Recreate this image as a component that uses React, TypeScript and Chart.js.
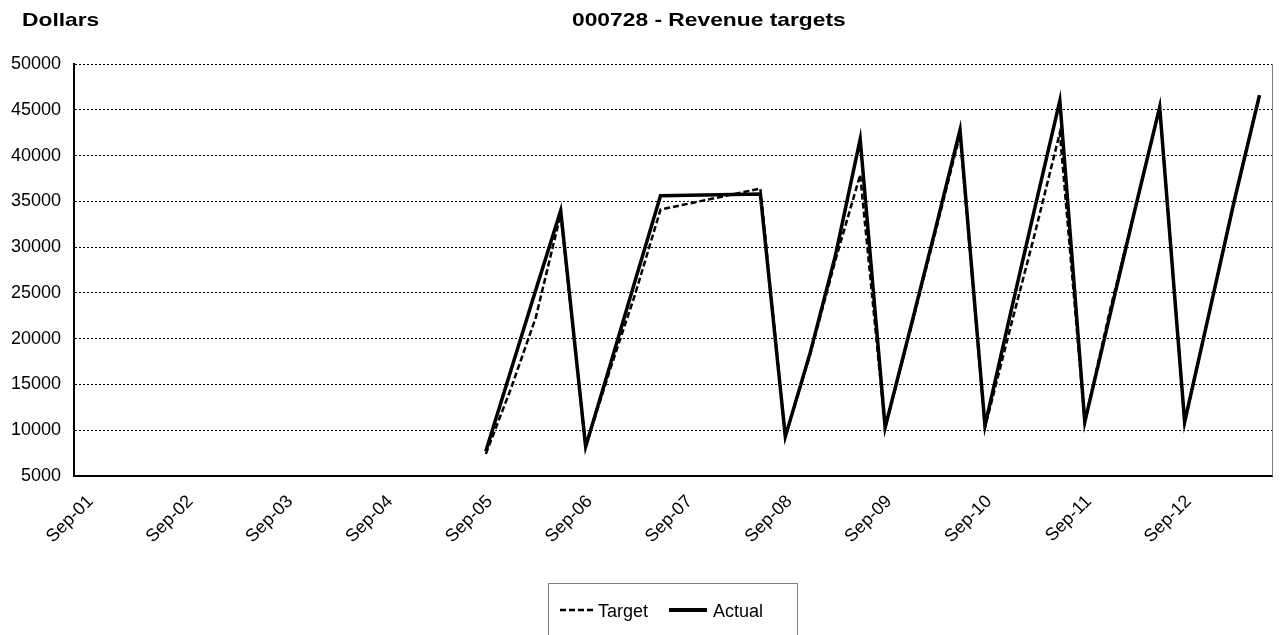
import React, { useEffect, useRef } from 'react';
import { Chart, registerables } from 'chart.js';

Chart.register(...registerables);

const FONT = '"Liberation Sans", Arial, Helvetica, sans-serif';

const chartTitle = '000728 - Revenue targets';
const unitLabel = 'Dollars';

// Quarterly categories, Sep-01 .. Jun-13
const quarterLabels = [
  'Sep-01', 'Dec-01', 'Mar-02', 'Jun-02',
  'Sep-02', 'Dec-02', 'Mar-03', 'Jun-03',
  'Sep-03', 'Dec-03', 'Mar-04', 'Jun-04',
  'Sep-04', 'Dec-04', 'Mar-05', 'Jun-05',
  'Sep-05', 'Dec-05', 'Mar-06', 'Jun-06',
  'Sep-06', 'Dec-06', 'Mar-07', 'Jun-07',
  'Sep-07', 'Dec-07', 'Mar-08', 'Jun-08',
  'Sep-08', 'Dec-08', 'Mar-09', 'Jun-09',
  'Sep-09', 'Dec-09', 'Mar-10', 'Jun-10',
  'Sep-10', 'Dec-10', 'Mar-11', 'Jun-11',
  'Sep-11', 'Dec-11', 'Mar-12', 'Jun-12',
  'Sep-12', 'Dec-12', 'Mar-13', 'Jun-13',
];

const targetValues: (number | null)[] = [
  null, null, null, null,
  null, null, null, null,
  null, null, null, null,
  null, null, null, null,
  7400, 14500, 22300, 33600,
  8200, 16800, 25000, 34100,
  null, null, null, 36400,
  9300, 18300, 28500, 37900,
  10300, 20800, 31500, 42300,
  10300, 21000, 31500, 42500,
  10900, 23000, 34000, 45300,
  10900, 23000, 35200, 46600,
];

const actualValues: (number | null)[] = [
  null, null, null, null,
  null, null, null, null,
  null, null, null, null,
  null, null, null, null,
  7700, 16500, 25300, 34000,
  8200, 17300, 26500, 35600,
  null, null, null, 35800,
  9300, 18500, 29000, 41800,
  10300, 21000, 31800, 42800,
  10500, 22500, 34300, 46000,
  10900, 22500, 34000, 45300,
  10900, 23000, 35200, 46600,
];

const yMin = 5000;
const yMax = 50000;
const yStep = 5000;

function drawStretchedText(ctx: CanvasRenderingContext2D, text: string, x: number, y: number, sx: number) {
  ctx.save();
  ctx.translate(x, y);
  ctx.scale(sx, 1);
  ctx.fillText(text, 0, 0);
  ctx.restore();
}

const decorPlugin = {
  id: 'decor',
  afterDraw(chart: any) {
    const { ctx, chartArea } = chart;
    ctx.save();
    // right frame line
    ctx.strokeStyle = '#808080';
    ctx.lineWidth = 1;
    ctx.setLineDash([]);
    ctx.beginPath();
    ctx.moveTo(Math.round(chartArea.right) + 0.5, chartArea.top);
    ctx.lineTo(Math.round(chartArea.right) + 0.5, chartArea.bottom);
    ctx.stroke();

    // titles
    ctx.fillStyle = '#000';
    ctx.textBaseline = 'alphabetic';
    ctx.textAlign = 'left';
    ctx.font = `bold 19px ${FONT}`;
    drawStretchedText(ctx, unitLabel, 22, 26, 1.2);
    drawStretchedText(ctx, chartTitle, 572, 26, 1.2);

    // legend box
    ctx.strokeStyle = '#808080';
    ctx.lineWidth = 1;
    ctx.strokeRect(548.5, 583.5, 249, 70);

    const ds = chart.data.datasets;
    const items = [
      { d: ds[0], x0: 560, x1: 595, tx: 598, w: 2.5 },
      { d: ds[1], x0: 669, x1: 707, tx: 713, w: 4 },
    ];
    const ly = 610;
    items.forEach((it) => {
      ctx.save();
      ctx.strokeStyle = it.d.borderColor;
      ctx.lineWidth = it.w;
      ctx.setLineDash(it.d.borderDash || []);
      ctx.beginPath();
      ctx.moveTo(it.x0, ly);
      ctx.lineTo(it.x1, ly);
      ctx.stroke();
      ctx.restore();
      ctx.fillStyle = '#000';
      ctx.font = `18px ${FONT}`;
      ctx.textBaseline = 'alphabetic';
      ctx.fillText(it.d.label, it.tx, 617);
    });
    ctx.restore();
  },
};

export default function App() {
  const ref = useRef<HTMLCanvasElement>(null);

  useEffect(() => {
    document.body.style.margin = '0';
    Chart.defaults.font.family = FONT;
    const chart = new Chart(ref.current as HTMLCanvasElement, {
      type: 'line',
      data: {
        labels: quarterLabels,
        datasets: [
          {
            label: 'Target',
            data: targetValues,
            borderColor: '#000',
            backgroundColor: '#000',
            borderWidth: 2.5,
            borderDash: [6, 3],
            pointRadius: 0,
            spanGaps: true,
            tension: 0,
            fill: false,
          },
          {
            label: 'Actual',
            data: actualValues,
            borderColor: '#000',
            backgroundColor: '#000',
            borderWidth: 3.5,
            pointRadius: 0,
            spanGaps: true,
            tension: 0,
            fill: false,
          },
        ],
      },
      options: {
        responsive: false,
        animation: false,
        events: [],
        layout: { padding: { left: 0, right: 8, top: 64, bottom: 0 } },
        plugins: {
          legend: { display: false },
          tooltip: { enabled: false },
          title: { display: false },
        },
        scales: {
          x: {
            type: 'category',
            offset: true,
            grid: { display: false },
            border: { display: true, color: '#000', width: 2 },
            ticks: {
              autoSkip: false,
              maxRotation: 45,
              minRotation: 45,
              padding: 7,
              labelOffset: 4,
              color: '#000',
              font: { size: 18, family: FONT },
              callback: (_v: any, i: number) => {
                const l = quarterLabels[i];
                return l.startsWith('Sep') ? l : '';
              },
            },
            afterFit: (s: any) => {
              s.height = 159;
              s.paddingLeft = 0;
              s.paddingRight = 0;
            },
          },
          y: {
            min: yMin,
            max: yMax,
            ticks: {
              stepSize: yStep,
              color: '#000',
              padding: 13,
              font: { size: 18, family: FONT },
              callback: (v: any) => String(v),
            },
            grid: { color: '#000', lineWidth: 1, drawTicks: false },
            border: { display: true, color: '#000', width: 2, dash: [2, 2] },
            afterFit: (s: any) => {
              s.width = 74;
              s.paddingTop = 0;
              s.paddingBottom = 0;
            },
          },
        },
      } as any,
      plugins: [decorPlugin],
    });
    return () => chart.destroy();
  }, []);

  return (
    <div style={{ width: 1280, height: 635 }}>
      <canvas ref={ref} width={1280} height={635} style={{ display: 'block' }} />
    </div>
  );
}
